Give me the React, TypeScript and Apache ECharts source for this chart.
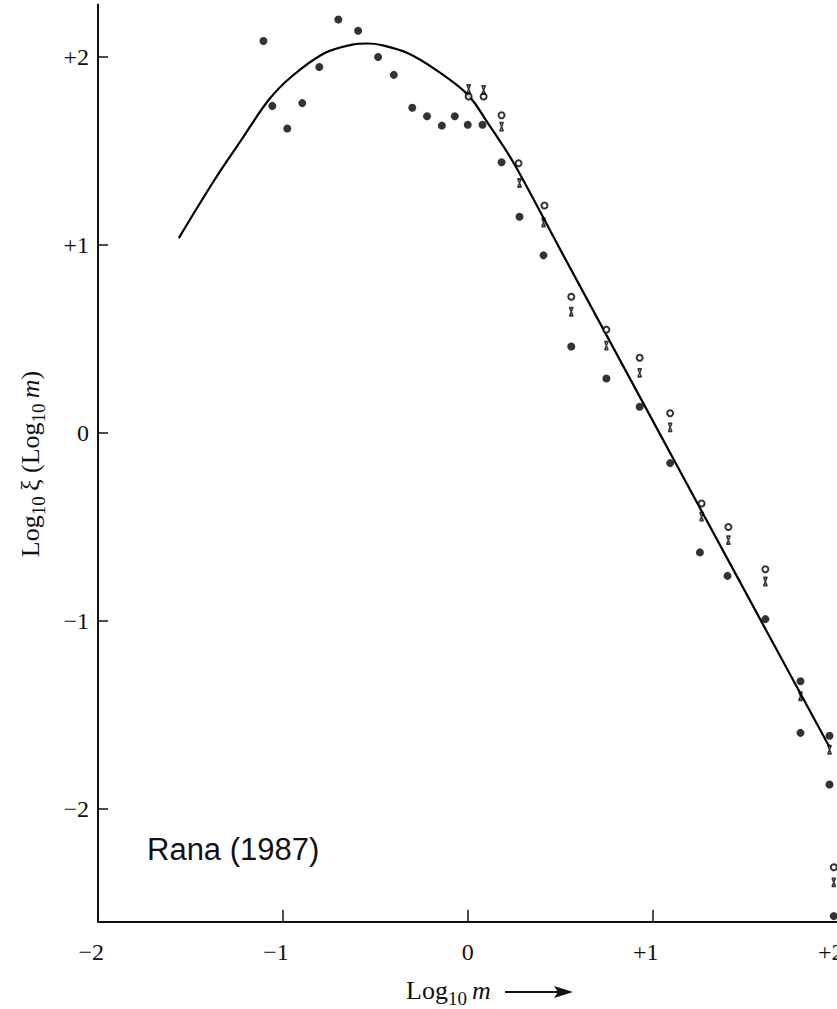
import React, { useEffect, useRef } from "react";
import * as echarts from "echarts";

// Fitted curve
const curveX = [-1.563, -1.37, -1.224, -1.078, -0.954, -0.776, -0.63, -0.54, -0.469, -0.323, -0.162, 0.0, 0.108, 0.25, 0.502, 1.375, 1.956];
const curveY = [1.037, 1.346, 1.56, 1.77, 1.895, 2.02, 2.065, 2.072, 2.064, 2.02, 1.925, 1.8, 1.65, 1.434, 0.973, -0.615, -1.669];

// Filled dots
const dotX = [-1.105, -1.057, -0.976, -0.895, -0.803, -0.7, -0.593, -0.485, -0.4, -0.3, -0.22, -0.14, -0.07, 0.0, 0.08, 0.183, 0.28, 0.41, 0.56, 0.75, 0.93, 1.095, 1.256, 1.405, 1.61, 1.8, 1.8, 1.957, 1.957, 1.98];
const dotY = [2.085, 1.74, 1.62, 1.755, 1.947, 2.2, 2.14, 2.0, 1.905, 1.73, 1.685, 1.635, 1.685, 1.64, 1.64, 1.44, 1.15, 0.945, 0.46, 0.29, 0.14, -0.16, -0.635, -0.76, -0.99, -1.32, -1.595, -1.61, -1.87, -2.57];

// Open circles
const openX = [0.005, 0.086, 0.183, 0.275, 0.415, 0.56, 0.75, 0.93, 1.095, 1.265, 1.41, 1.61, 1.98];
const openY = [1.79, 1.79, 1.69, 1.435, 1.21, 0.725, 0.55, 0.4, 0.105, -0.375, -0.5, -0.725, -2.31];

// Crosses
const crossX = [0.005, 0.086, 0.183, 0.28, 0.41, 0.56, 0.75, 0.93, 1.095, 1.265, 1.41, 1.61, 1.8, 1.957, 1.98];
const crossY = [1.83, 1.825, 1.63, 1.33, 1.12, 0.645, 0.465, 0.32, 0.03, -0.445, -0.57, -0.79, -1.4, -1.685, -2.39];

const xTicks = [-2, -1, 0, 1, 2];
const yTicks = [-2, -1, 0, 1, 2];

const SERIF = "'Liberation Serif', 'DejaVu Serif', serif";

const zip = (a: number[], b: number[]) => a.map((v, i) => [v, b[i]]);
const signed = (v: number) => (v > 0 ? "+" + v : v < 0 ? "\u2212" + Math.abs(v) : "0");

const titleRich = {
  n: { fontFamily: SERIF, fontSize: 26, lineHeight: 36, fill: "#111" },
  s: { fontFamily: SERIF, fontSize: 19, verticalAlign: "bottom", fill: "#111" },
  i: { fontFamily: SERIF, fontSize: 26, fontStyle: "italic", lineHeight: 36, fill: "#111" },
};

export default function App() {
  const ref = useRef<HTMLDivElement>(null);
  useEffect(() => {
    if (!ref.current) return;
    const chart = echarts.init(ref.current, undefined, { renderer: "svg" });
    chart.setOption({
      animation: false,
      backgroundColor: "#fff",
      grid: { left: 98, right: 22, top: 4.4, bottom: 87.2, containLabel: false },
      xAxis: {
        type: "value",
        min: -2,
        max: 2,
        splitLine: { show: false },
        axisLine: { show: true, onZero: false, lineStyle: { color: "#111", width: 2 } },
        axisTick: { show: true, inside: true, length: 12, customValues: xTicks, lineStyle: { color: "#111", width: 1.5 } },
        axisLabel: {
          customValues: xTicks,
          margin: 18,
          color: "#111",
          fontFamily: SERIF,
          fontSize: 24,
          formatter: (v: number) => {
            if (v === 0) return "0";
            const s = v > 0 ? "+" : "\u2212";
            return s + Math.abs(v) + "{h|" + s + "}";
          },
          rich: { h: { color: "transparent", fontFamily: SERIF, fontSize: 24 } },
        },
      },
      yAxis: {
        type: "value",
        min: -2.6,
        max: 2.28,
        splitLine: { show: false },
        axisLine: { show: true, onZero: false, lineStyle: { color: "#111", width: 2 } },
        axisTick: { show: true, inside: true, length: 10, customValues: yTicks, lineStyle: { color: "#111", width: 1.5 } },
        axisLabel: {
          customValues: yTicks,
          margin: 9,
          color: "#111",
          fontFamily: SERIF,
          fontSize: 24,
          formatter: (v: number) => signed(v),
        },
      },
      series: [
        {
          type: "line",
          data: zip(curveX, curveY),
          smooth: 0.35,
          showSymbol: false,
          lineStyle: { color: "#000", width: 2.2 },
          z: 2,
        },
        {
          type: "scatter",
          data: zip(dotX, dotY),
          symbol: "circle",
          symbolSize: 8,
          itemStyle: { color: "#000" },
          z: 3,
        },
        {
          type: "scatter",
          data: zip(openX, openY),
          symbol: "emptyCircle",
          symbolSize: 6,
          itemStyle: { color: "#000", borderColor: "#000", borderWidth: 1.6 },
          z: 3,
        },
        {
          type: "scatter",
          data: zip(crossX, crossY),
          symbol: "path://M0,0 L10,0 M0,14 L10,14 M1,0 L9,14 M9,0 L1,14",
          symbolKeepAspect: true,
          symbolSize: [6, 8],
          itemStyle: { color: "transparent", borderColor: "#000", borderWidth: 1.6 },
          z: 3,
        },
      ],
      graphic: [
        {
          type: "text",
          x: 147,
          y: 849,
          style: {
            text: "Rana (1987)",
            fill: "#111",
            fontFamily: "'Liberation Sans', Arial, sans-serif",
            fontSize: 31,
            align: "left",
            verticalAlign: "middle",
          },
        },
        {
          type: "text",
          x: 30,
          y: 464,
          rotation: Math.PI / 2,
          style: {
            text: "{n|Log}{s|10}{n|\u2009\u03be (Log}{s|10}{i|\u2009m}{n|)}",
            fill: "#111",
            align: "center",
            verticalAlign: "middle",
            rich: titleRich,
          },
        },
        {
          type: "text",
          x: 406,
          y: 990,
          style: {
            text: "{n|Log}{s|10}{i|\u2009m}",
            fill: "#111",
            align: "left",
            verticalAlign: "middle",
            rich: titleRich,
          },
        },
        {
          type: "line",
          shape: { x1: 505, y1: 992, x2: 560, y2: 992 },
          style: { stroke: "#111", lineWidth: 2 },
        },
        {
          type: "polygon",
          shape: { points: [[554, 986], [573, 992], [554, 998], [558, 992]] },
          style: { fill: "#111" },
        },
      ],
    });
    return () => chart.dispose();
  }, []);
  return (
    <div style={{ position: "fixed", left: 0, top: 0, width: 837, height: 1009, overflow: "hidden", background: "#fff" }}>
      <div ref={ref} style={{ width: 860, height: 1009 }} />
    </div>
  );
}
